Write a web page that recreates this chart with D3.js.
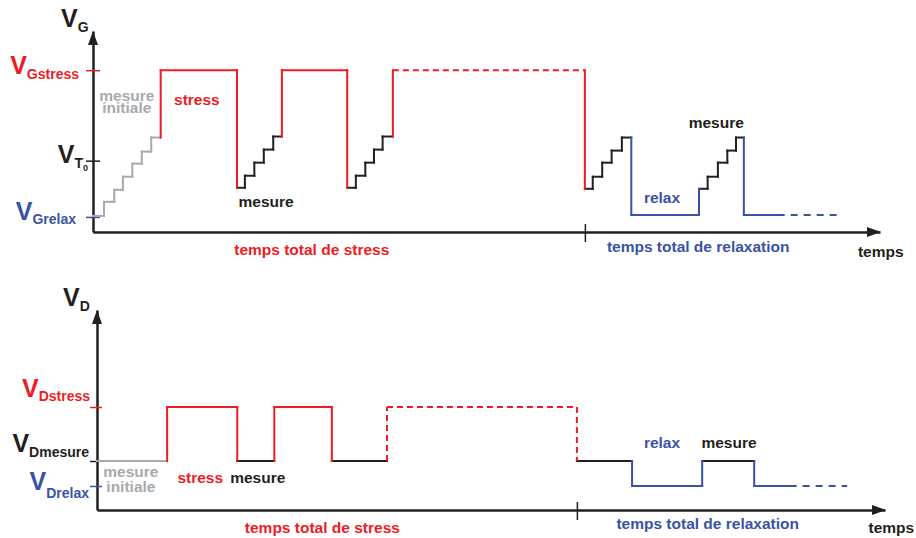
<!DOCTYPE html>
<html>
<head>
<meta charset="utf-8">
<script src="https://cdn.jsdelivr.net/npm/d3@7"></script>
<style>
  body { margin: 0; background: #fff; }
  text { font-family: "Liberation Sans", Arial, sans-serif; font-weight: bold; }
</style>
</head>
<body>
<div id="chart"></div>
<script>
// colours used by the schematic
const RED = "#ed1c24", BLUE = "#3953a4", GREY = "#a7a9ac", BLACK = "#231f20";
const phaseColor = { init: GREY, stress: RED, mesure: BLACK, relax: BLUE };

// ---------- top panel: gate voltage ----------
// start time of each plateau (arbitrary time units, 0..100) and its level (0..10)
const gStart = [0, 1.4, 2.7, 3.8, 5.0, 6.2, 7.4,
                8.6,
                18.3, 19.3, 20.5, 21.7, 22.9,
                24.0,
                32.3, 33.4, 34.6, 35.7, 36.8,
                38.1,
                62.5, 63.5, 64.7, 65.9, 67.2,
                68.4,
                77.0, 78.1, 79.4, 80.6, 81.7,
                82.7, 87.0];
const gEnd = 94.5;
const gLevel = [0.8, 1.5, 2.1, 2.75, 3.4, 4.0, 4.7,
                8.05,
                2.2, 2.8, 3.45, 4.1, 4.75,
                8.05,
                2.2, 2.8, 3.45, 4.1, 4.75,
                8.05,
                2.15, 2.75, 3.45, 4.05, 4.7,
                0.85,
                2.15, 2.75, 3.45, 4.05, 4.7,
                0.85, 0.85];
const gPhase = ["init", "init", "init", "init", "init", "init", "init",
                "stress",
                "mesure", "mesure", "mesure", "mesure", "mesure",
                "stress",
                "mesure", "mesure", "mesure", "mesure", "mesure",
                "stress",
                "mesure", "mesure", "mesure", "mesure", "mesure",
                "relax",
                "mesure", "mesure", "mesure", "mesure", "mesure",
                "relax", "relax"];
// 0 solid, 1 dashed plateau, 2 dashed plateau and edges
const gDash = [0, 0, 0, 0, 0, 0, 0, 0, 0, 0, 0, 0, 0, 0, 0, 0, 0, 0, 0,
               1, 0, 0, 0, 0, 0, 0, 0, 0, 0, 0, 0, 0, 1];
const gTickNames = ["Gstress", "T", "Grelax"];
const gTickValues = [8.05, 3.55, 0.75];
const gTickColors = [RED, BLACK, BLUE];
const gStressEnd = 62.5;

// ---------- bottom panel: drain voltage ----------
const dStart = [0, 8.9, 17.8, 22.5, 29.8, 36.8, 60.9, 67.9, 76.8, 83.4, 87.9];
const dEnd = 95.2;
const dLevel = [2.45, 5.15, 2.45, 5.15, 2.45, 5.15, 2.45, 1.2, 2.45, 1.2, 1.2];
const dPhase = ["init", "stress", "mesure", "stress", "mesure", "stress",
                "mesure", "relax", "mesure", "relax", "relax"];
const dDash = [0, 0, 0, 0, 0, 2, 0, 0, 0, 0, 1];
const dTickNames = ["Dstress", "Dmesure", "Drelax"];
const dTickValues = [5.15, 2.45, 1.2];
const dTickColors = [RED, BLACK, BLUE];
const dStressEnd = 60.9;

const svg = d3.select("#chart").append("svg")
  .attr("width", 916)
  .attr("height", 538);

function drawPanel(p) {
  const x = d3.scaleLinear().domain([0, 100]).range([p.left, p.right]);
  const y = d3.scaleLinear().domain([0, 10]).range([p.bottom, p.top]);
  const g = svg.append("g");

  // x axis with the single tick that splits stress / relaxation
  const gx = g.append("g")
    .attr("transform", "translate(0," + p.bottom + ")")
    .call(d3.axisBottom(x).tickValues([p.stressEnd]).tickFormat("").tickSizeOuter(0));
  gx.select(".domain").attr("stroke", BLACK).attr("stroke-width", 2.5);
  gx.selectAll(".tick line").attr("stroke", BLACK).attr("stroke-width", 1.5)
    .attr("y1", -8).attr("y2", 10);

  // y axis, coloured level ticks
  const gy = g.append("g")
    .attr("transform", "translate(" + p.left + ",0)")
    .call(d3.axisLeft(y).tickValues(p.tickValues).tickFormat("").tickSizeOuter(0));
  gy.select(".domain").attr("stroke", BLACK).attr("stroke-width", 2.5);
  gy.selectAll(".tick line")
    .attr("stroke", (d, i) => p.tickColors[i])
    .attr("stroke-width", 1.5)
    .attr("x1", (d, i) => p.tickRight[i])
    .attr("x2", -7);

  // arrow heads
  g.append("path")
    .attr("d", `M${x(0)},${y(10)} L${x(0) - 5},${y(10) + 14} L${x(0) + 5},${y(10) + 14} Z`)
    .attr("fill", BLACK);
  g.append("path")
    .attr("d", `M${x(100) + 1},${y(0)} L${x(100) - 13},${y(0) - 5} L${x(100) - 13},${y(0) + 5} Z`)
    .attr("fill", BLACK);

  // build plateaus and the edges between them
  const ends = p.start.slice(1).concat([p.end]);
  const owns = ph => ph === "stress" || ph === "relax";
  const segs = [];
  p.start.forEach((t, i) => {
    segs.push({ x1: t, y1: p.level[i], x2: ends[i], y2: p.level[i],
                phase: p.phase[i], dash: p.dash[i] > 0 });
    if (i > 0) {
      const k = owns(p.phase[i]) ? i : (owns(p.phase[i - 1]) ? i - 1 : i);
      segs.push({ x1: t, y1: p.level[i - 1], x2: t, y2: p.level[i],
                  phase: p.phase[k], dash: p.dash[k] > 1 });
    }
  });

  g.append("g").selectAll("line")
    .data(segs)
    .enter()
    .append("line")
    .attr("x1", d => x(d.x1)).attr("y1", d => y(d.y1))
    .attr("x2", d => x(d.x2)).attr("y2", d => y(d.y2))
    .attr("stroke", d => phaseColor[d.phase])
    .attr("stroke-width", 2)
    .attr("stroke-linecap", d => d.dash ? "butt" : "square")
    .attr("stroke-dasharray", d => d.dash ? (d.phase === "relax" ? "7,6" : "6,4") : null);

  // axis title, e.g. V with subscript
  const title = g.append("text")
    .attr("x", x(0) + p.titleDx).attr("y", y(10) - 4)
    .attr("fill", BLACK);
  title.append("tspan").attr("font-size", 25).text("V");
  title.append("tspan").attr("font-size", 14).attr("dy", 5).text(p.titleSub);

  // level labels
  p.tickNames.forEach((name, i) => {
    const lab = g.append("text")
      .attr("x", x(0) + p.labelDx[i])
      .attr("y", y(p.tickValues[i]) + p.labelDy[i])
      .attr("text-anchor", "end")
      .attr("fill", p.tickColors[i]);
    lab.append("tspan").attr("font-size", 25).text("V");
    lab.append("tspan").attr("font-size", 14).attr("dy", p.subDy[i]).text(name);
    if (name === "T") lab.append("tspan").attr("font-size", 9).attr("dy", 3).text("0");
  });

  // annotations
  p.notes.forEach(n => {
    const t = g.append("text")
      .attr("x", x(n.t)).attr("y", y(n.v))
      .attr("text-anchor", "middle")
      .attr("font-size", 15.5)
      .attr("fill", n.color);
    n.lines.forEach((s, j) => {
      t.append("tspan").attr("x", x(n.t)).attr("dy", j ? p.noteLead : 0).text(s);
    });
  });
}

drawPanel({
  left: 93, right: 880, top: 31, bottom: 232,
  start: gStart, end: gEnd, level: gLevel, phase: gPhase, dash: gDash,
  tickNames: gTickNames, tickValues: gTickValues, tickColors: gTickColors,
  tickRight: [7, 7, 7],
  labelDx: [-14, -5, -17], labelDy: [4, 2, 3], subDy: [5, 5, 4],
  stressEnd: gStressEnd, titleDx: -32, titleSub: "G", noteLead: 11.5,
  notes: [
    { lines: ["mesure", "initiale"], t: 4.3, v: 6.5, color: GREY },
    { lines: ["stress"], t: 13.2, v: 6.3, color: RED },
    { lines: ["mesure"], t: 22.0, v: 1.25, color: BLACK },
    { lines: ["relax"], t: 72.3, v: 1.45, color: BLUE },
    { lines: ["mesure"], t: 79.2, v: 5.15, color: BLACK },
    { lines: ["temps total de stress"], t: 27.8, v: -1.15, color: RED },
    { lines: ["temps total de relaxation"], t: 76.9, v: -1.0, color: BLUE },
    { lines: ["temps"], t: 100.1, v: -1.25, color: BLACK }
  ]
});

drawPanel({
  left: 97, right: 885, top: 310, bottom: 510,
  start: dStart, end: dEnd, level: dLevel, phase: dPhase, dash: dDash,
  tickNames: dTickNames, tickValues: dTickValues, tickColors: dTickColors,
  tickRight: [5, 0, 5],
  labelDx: [-7, -8, -8], labelDy: [-10, -9, 4], subDy: [4, 5, 8],
  stressEnd: dStressEnd, titleDx: -34, titleSub: "D", noteLead: 15,
  notes: [
    { lines: ["mesure", "initiale"], t: 4.3, v: 1.65, color: GREY },
    { lines: ["stress"], t: 13.1, v: 1.35, color: RED },
    { lines: ["mesure"], t: 20.4, v: 1.35, color: BLACK },
    { lines: ["relax"], t: 71.7, v: 3.1, color: BLUE },
    { lines: ["mesure"], t: 80.2, v: 3.1, color: BLACK },
    { lines: ["temps total de stress"], t: 28.6, v: -1.15, color: RED },
    { lines: ["temps total de relaxation"], t: 77.5, v: -0.95, color: BLUE },
    { lines: ["temps"], t: 100.8, v: -1.15, color: BLACK }
  ]
});
</script>
</body>
</html>
